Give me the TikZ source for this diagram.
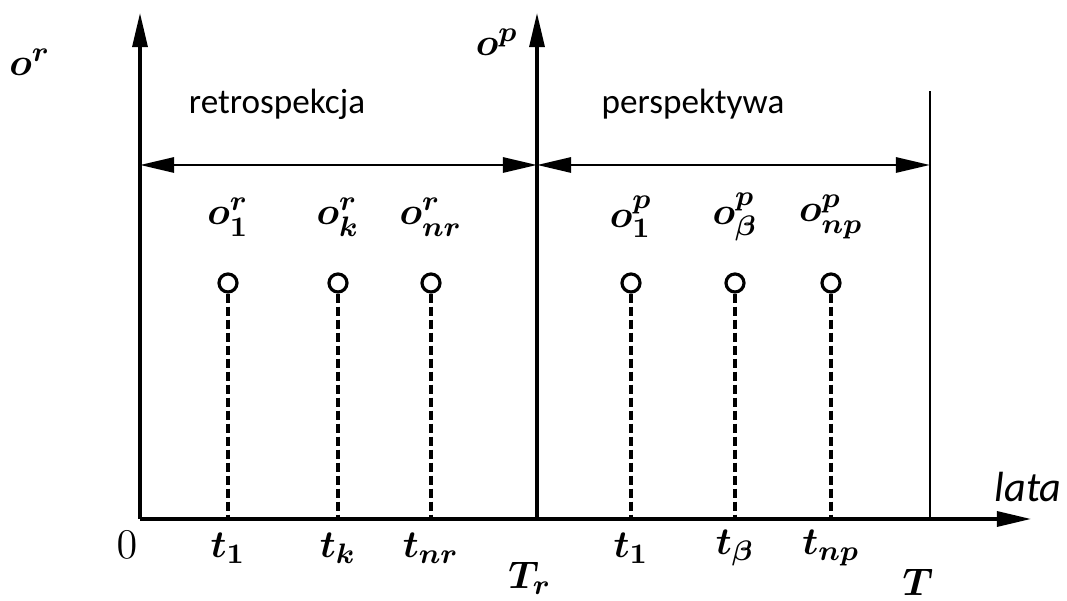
\documentclass[tikz,border=0pt]{standalone}
\usepackage{fontspec}
\setmainfont{Carlito}
\usetikzlibrary{arrows.meta}
\begin{document}
\begin{tikzpicture}[x=0.01cm,y=-0.01cm,
    axis/.style={line width=0.9pt},
    tip/.style={-{Triangle[length=3.4mm,width=1.5mm]}},
    span/.style={{Triangle[length=3.4mm,width=1.5mm]}-{Triangle[length=3.4mm,width=1.5mm]},line width=0.8pt},
    event/.style={circle,draw,line width=0.9pt,minimum size=0.18cm,inner sep=0pt},
    stem/.style={line width=1.1pt,dash pattern=on 0.09cm off 0.04cm},
    lab/.style={font=\fontsize{11}{13}\selectfont\boldmath}]
    \useasboundingbox (0,0) rectangle (1067,601);
        % osie
        \coordinate (O) at (140,519);
        \coordinate (Tr) at (537,519);
        \coordinate (T) at (930,519);
        \draw[axis,tip](O)--(140,13);
        \draw[axis,tip](Tr)--(537,13);
        \draw[axis,tip](O)--(1031,519);
        \draw[line width=0.3pt](T)--(930,91);
        \draw[span](140,165)--(537,165);
        \draw[span](537,165)--(930,165);
        \node[lab] at (30,62) {$o^r$};
        \node[lab] at (497,42) {$o^p$};
        \node[font=\fontsize{10}{12}\selectfont] at (277,104) {retrospekcja};
        \node[font=\fontsize{10}{12}\selectfont] at (693,104) {perspektywa};
        % zdarzenia
        \foreach \n/\x/\o/\t in {a/228/o^r_1/t_1, b/338/o^r_k/t_k, c/431/o^r_{nr}/t_{nr},
                                 d/631/o^p_1/t_1, e/735/o^p_\beta/t_\beta, f/831/o^p_{np}/t_{np}}{
            \node[event] (\n) at (\x,283) {};
            \coordinate (\n0) at (\x,519);
            \draw[stem](\n)--(\n0);
            \node[lab] at (\x,217) {$\o$};
            \node[lab] at (\x,548) {$\t$};
        }
        \node[font=\fontsize{12}{14}\selectfont] at (127,545) {$0$};
        \node[lab] at (530,578) {$T_r$};
        \node[lab] at (918,582) {$T$};
        \node[font=\fontsize{12}{14}\selectfont\itshape] at (1028,487) {lata};
    \end{tikzpicture}
\end{document}
